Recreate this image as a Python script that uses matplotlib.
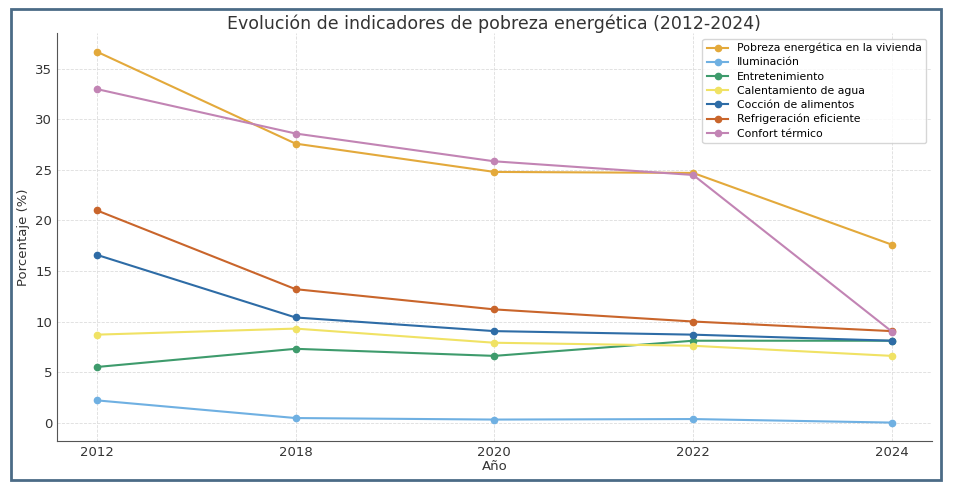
import matplotlib.pyplot as plt
from matplotlib.patches import Rectangle

anios = ["2012", "2018", "2020", "2022", "2024"]

pobreza = [36.7, 27.6, 24.8, 24.7, 17.6]
iluminacion = [2.2, 0.45, 0.3, 0.35, 0.0]
entretenimiento = [5.5, 7.3, 6.6, 8.1, 8.1]
calentamiento = [8.7, 9.3, 7.9, 7.6, 6.6]
coccion = [16.6, 10.4, 9.05, 8.7, 8.1]
refrigeracion = [21.0, 13.2, 11.2, 10.0, 9.05]
confort = [33.0, 28.6, 25.85, 24.5, 9.0]

series = [
    ("Pobreza energética en la vivienda", pobreza, "#E3A93B"),
    ("Iluminación", iluminacion, "#6FB0E2"),
    ("Entretenimiento", entretenimiento, "#3E9B6C"),
    ("Calentamiento de agua", calentamiento, "#F0E264"),
    ("Cocción de alimentos", coccion, "#2E6CA6"),
    ("Refrigeración eficiente", refrigeracion, "#C9652B"),
    ("Confort térmico", confort, "#C284B4"),
]

fig = plt.figure(figsize=(9.56, 4.94), dpi=100)
ax = fig.add_axes([0.0596, 0.107, 0.915, 0.826])

for nombre, vals, color in series:
    ax.plot(anios, vals, marker="o", markersize=4.5, linewidth=1.5, color=color, label=nombre)

ax.set_title("Evolución de indicadores de pobreza energética (2012-2024)", fontsize=12.5, color="#333333", pad=3)
ax.set_xlabel("Año", fontsize=9.5, color="#333333", labelpad=1)
ax.set_ylabel("Porcentaje (%)", fontsize=9.5, color="#333333")
ax.tick_params(labelsize=9.5, colors="#333333", length=0)
ax.set_yticks([0, 5, 10, 15, 20, 25, 30, 35])
ax.grid(True, linestyle="--", linewidth=0.6, color="#dddddd")
ax.spines["top"].set_visible(False)
ax.spines["right"].set_visible(False)
ax.spines["left"].set_color("#555555")
ax.spines["bottom"].set_color("#555555")

ax.legend(loc="upper right", fontsize=7.8, frameon=True, edgecolor="#cccccc",
          handlelength=2.0, labelspacing=0.38, borderpad=0.4)

fig.patches.append(Rectangle((0.012, 0.028), 0.972, 0.953, transform=fig.transFigure,
                             fill=False, edgecolor="#4b6b86", linewidth=2))

fig.savefig("out.png", dpi=100)
